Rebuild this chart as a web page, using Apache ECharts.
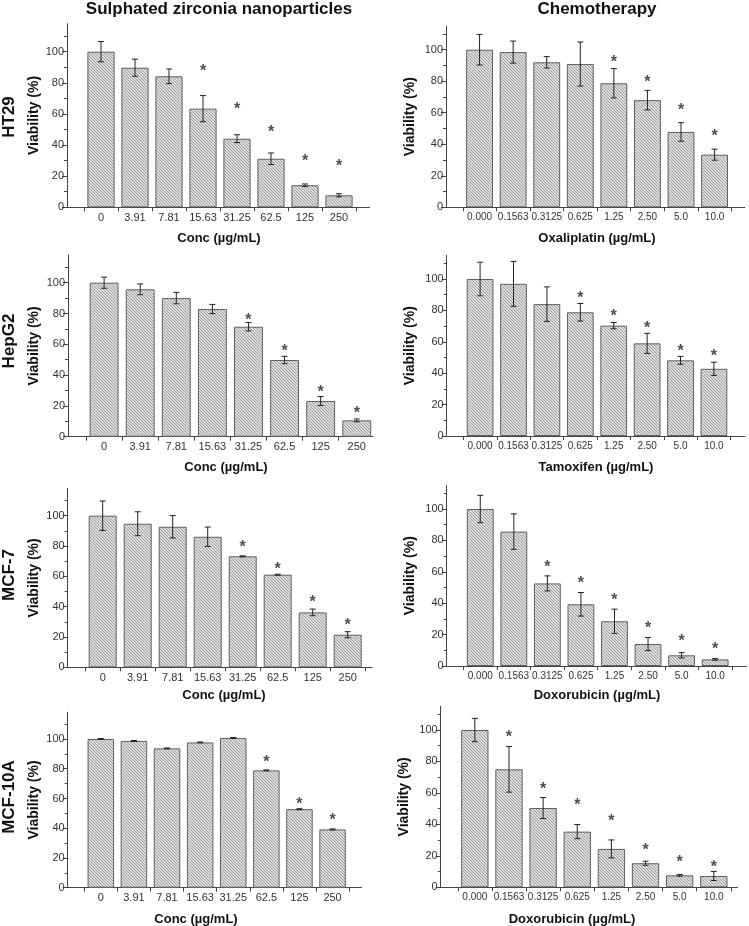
<!DOCTYPE html>
<html>
<head>
<meta charset="utf-8">
<script src="https://cdn.jsdelivr.net/npm/echarts@6/dist/echarts.min.js"></script>
<style>
  html, body { margin: 0; padding: 0; background: #fff; }
  #chart { width: 749px; height: 926px; }
</style>
</head>
<body>
<div id="chart"></div>
<script>
// x categories
var nanoConc = ["0", "3.91", "7.81", "15.63", "31.25", "62.5", "125", "250"];
var chemoConc = ["0.000", "0.1563", "0.3125", "0.625", "1.25", "2.50", "5.0", "10.0"];

// viability (%), error (+/-) and height of the * marker
var ht29Nano = [100, 89.7, 84.2, 63.4, 44.1, 31.2, 14.2, 7.7];
var ht29NanoErr = [6.5, 5.5, 4.7, 8.4, 2.5, 3.7, 0.8, 1.0];
var ht29NanoStar = [null, null, null, 88.9, 64.7, 49.7, 31.5, 27.8];

var ht29Oxa = [100, 98.5, 92, 90.9, 78.7, 68, 47.8, 33.4];
var ht29OxaErr = [9.7, 7, 3.6, 14, 9.3, 6.2, 5.9, 3.5];
var ht29OxaStar = [null, null, null, null, 93.9, 80.8, 63.2, 46.5];

var hepg2Nano = [100, 95.7, 90, 82.9, 71.4, 49.8, 23.2, 10.6];
var hepg2NanoErr = [3.6, 3.5, 3.7, 3, 2.7, 2.4, 2.9, 0.9];
var hepg2NanoStar = [null, null, null, null, 77.3, 57.1, 30.7, 16.7];

var hepg2Tam = [100, 96.9, 84, 78.8, 70.3, 59, 48.2, 42.8];
var hepg2TamErr = [10.7, 14.3, 11, 5.6, 2, 6.4, 2.5, 4.2];
var hepg2TamStar = [null, null, null, 89.4, 78.1, 70.1, 55.8, 52.2];

var mcf7Nano = [100, 94.7, 92.7, 86.1, 73.2, 61.1, 36.2, 21.5];
var mcf7NanoErr = [9.7, 7.9, 7.4, 6.4, 0.3, 0.3, 2.2, 2];
var mcf7NanoStar = [null, null, null, null, 80.9, 66.4, 44.8, 29.5];

var mcf7Dox = [100, 85.6, 52.6, 39.3, 28.5, 14, 6.8, 4.2];
var mcf7DoxErr = [8.7, 11.3, 4.8, 7.5, 7.7, 4.2, 1.7, 0.5];
var mcf7DoxStar = [null, null, 64.5, 54.4, 43.7, 25.5, 17.6, 12.3];

var mcf10aNano = [100, 98.7, 93.7, 97.7, 100.7, 78.9, 52.8, 39.2];
var mcf10aNanoErr = [0.3, 0.3, 0.3, 0.3, 0.3, 0.3, 0.3, 0.3];
var mcf10aNanoStar = [null, null, null, null, null, 85.9, 57.8, 47.1];

var mcf10aDox = [100, 75, 50.4, 35.4, 24.4, 15.3, 7.6, 7.2];
var mcf10aDoxErr = [7.4, 14.5, 6.7, 4.5, 5.7, 1.3, 0.5, 2.9];
var mcf10aDoxStar = [null, 96.8, 64, 53.8, 43.6, 25.4, 17.4, 14.2];

var majorTicks = [0, 20, 40, 60, 80, 100];

var FONT = "'Liberation Sans', Arial, sans-serif";

// grid placement for each panel (pixels), x range and y range
var panels = [
  { cats: nanoConc, vals: ht29Nano, errs: ht29NanoErr, stars: ht29NanoStar, left: 67, width: 302.6, y0: 207.3, y100: 51.7, xMax: 8.9, yMax: 118, yName: 34, xName: "Conc (\u00b5g/mL)", xNameX: 219, xNameY: 238, fs: 11 },
  { cats: chemoConc, vals: ht29Oxa, errs: ht29OxaErr, stars: ht29OxaStar, left: 446, width: 298.8, y0: 207.3, y100: 49.7, xMax: 8.9, yMax: 115, yName: 410, xName: "Oxaliplatin (\u00b5g/mL)", xNameX: 597, xNameY: 238, fs: 10 },
  { cats: nanoConc, vals: hepg2Nano, errs: hepg2NanoErr, stars: hepg2NanoStar, left: 68, width: 305, y0: 436.7, y100: 282.7, xMax: 8.45, yMax: 118, yName: 34, xName: "Conc (\u00b5g/mL)", xNameX: 226, xNameY: 467.5, fs: 11 },
  { cats: chemoConc, vals: hepg2Tam, errs: hepg2TamErr, stars: hepg2TamStar, left: 446.7, width: 298.3, y0: 436, y100: 279, xMax: 8.93, yMax: 115, yName: 410, xName: "Tamoxifen (\u00b5g/mL)", xNameX: 596, xNameY: 467.5, fs: 10 },
  { cats: nanoConc, vals: mcf7Nano, errs: mcf7NanoErr, stars: mcf7NanoStar, left: 67.7, width: 304.5, y0: 667.3, y100: 515.7, xMax: 8.7, yMax: 118, yName: 34, xName: "Conc (\u00b5g/mL)", xNameX: 224, xNameY: 695, fs: 11 },
  { cats: chemoConc, vals: mcf7Dox, errs: mcf7DoxErr, stars: mcf7DoxStar, left: 446.7, width: 300, y0: 666, y100: 509, xMax: 8.94, yMax: 115, yName: 410, xName: "Doxorubicin (\u00b5g/mL)", xNameX: 597, xNameY: 695, fs: 10 },
  { cats: nanoConc, vals: mcf10aNano, errs: mcf10aNanoErr, stars: mcf10aNanoStar, left: 67.7, width: 294, y0: 887.7, y100: 739, xMax: 8.88, yMax: 118, yName: 34, xName: "Conc (\u00b5g/mL)", xNameX: 196, xNameY: 919, fs: 11 },
  { cats: chemoConc, vals: mcf10aDox, errs: mcf10aDoxErr, stars: mcf10aDoxStar, left: 440.7, width: 297, y0: 887.3, y100: 730, xMax: 8.7, yMax: 115, yName: 404, xName: "Doxorubicin (\u00b5g/mL)", xNameX: 572, xNameY: 919, fs: 10 }
];

var rowLabels = [
  { text: "HT29", y: 117 },
  { text: "HepG2", y: 341 },
  { text: "MCF-7", y: 575 },
  { text: "MCF-10A", y: 797 }
];

// fine diagonal hatch used as bar fill
function makeHatch() {
  var c = document.createElement("canvas");
  c.width = 3;
  c.height = 3;
  var g = c.getContext("2d");
  g.fillStyle = "#dedede";
  g.fillRect(0, 0, 3, 3);
  g.fillStyle = "#9c9c9c";
  for (var i = 0; i < 3; i++) g.fillRect(i, i, 1, 1);
  return c;
}
var hatch = { image: makeHatch(), repeat: "repeat" };

function renderErr(params, api) {
  var x = api.value(0);
  var v = api.value(1);
  var e = api.value(2);
  var hi = api.coord([x, v + e]);
  var lo = api.coord([x, v - e]);
  var cap = 3;
  var st = { stroke: "#222", lineWidth: 1 };
  return {
    type: "group",
    children: [
      { type: "line", shape: { x1: hi[0], y1: hi[1], x2: lo[0], y2: lo[1] }, style: st },
      { type: "line", shape: { x1: hi[0] - cap, y1: hi[1], x2: hi[0] + cap, y2: hi[1] }, style: st },
      { type: "line", shape: { x1: lo[0] - cap, y1: lo[1], x2: lo[0] + cap, y2: lo[1] }, style: st }
    ]
  };
}

var grid = [], xAxis = [], yAxis = [], series = [], graphic = [];

panels.forEach(function (p, i) {
  var h = (p.y0 - p.y100) * p.yMax / 100;
  grid.push({ left: p.left, top: p.y0 - h, width: p.width, height: h, outerBoundsMode: "none" });

  var tickPos = [];
  for (var t = 0.5; t <= p.xMax; t += 1) tickPos.push(t);
  var labelPos = p.cats.map(function (c, k) { return k + 1; });

  xAxis.push({
    type: "value",
    gridIndex: i,
    min: 0,
    max: p.xMax,
    axisLine: { show: true, onZero: false, lineStyle: { color: "#444", width: 1 } },
    axisTick: { show: true, customValues: tickPos, length: 4, lineStyle: { color: "#444" } },
    axisLabel: {
      customValues: labelPos,
      formatter: function (v) { return p.cats[Math.round(v) - 1]; },
      fontFamily: FONT,
      fontSize: p.fs,
      color: "#333",
      margin: 5
    },
    splitLine: { show: false }
  });

  yAxis.push({
    type: "value",
    gridIndex: i,
    min: 0,
    max: p.yMax,
    interval: 20,
    axisLine: { show: true, lineStyle: { color: "#444", width: 1 } },
    axisTick: { show: true, customValues: majorTicks, length: 5, lineStyle: { color: "#444" } },
    minorTick: { show: true, splitNumber: 2, length: 3, lineStyle: { color: "#444" } },
    axisLabel: { customValues: majorTicks, fontFamily: FONT, fontSize: 11, color: "#333", margin: 3 },
    splitLine: { show: false },
    minorSplitLine: { show: false }
  });

  series.push({
    type: "bar",
    xAxisIndex: i,
    yAxisIndex: i,
    barWidth: "80%",
    data: p.vals.map(function (v, k) { return [k + 1, v]; }),
    itemStyle: { color: hatch, borderColor: "#606060", borderWidth: 1 },
    silent: true
  });

  series.push({
    type: "custom",
    xAxisIndex: i,
    yAxisIndex: i,
    renderItem: renderErr,
    encode: { x: 0, y: 1 },
    data: p.vals.map(function (v, k) { return [k + 1, v, p.errs[k]]; }),
    z: 3,
    silent: true
  });

  var starData = [];
  p.stars.forEach(function (s, k) { if (s != null) starData.push([k + 1, s]); });
  series.push({
    type: "scatter",
    xAxisIndex: i,
    yAxisIndex: i,
    symbolSize: 0,
    data: starData,
    label: {
      show: true,
      position: "inside",
      formatter: "*",
      fontFamily: FONT,
      fontSize: 16,
      fontWeight: "bold",
      color: "#222",
      offset: [0, 3]
    },
    z: 4,
    silent: true
  });

  graphic.push({
    type: "text",
    x: p.yName,
    y: p.y0 - h / 2,
    rotation: Math.PI / 2,
    style: { text: "Viability (%)", font: "bold 14px " + FONT, fill: "#111", align: "center", verticalAlign: "middle" }
  });
  graphic.push({
    type: "text",
    x: p.xNameX,
    y: p.xNameY,
    style: { text: p.xName, font: "bold 13px " + FONT, fill: "#111", align: "center", verticalAlign: "middle" }
  });
});

rowLabels.forEach(function (r) {
  graphic.push({
    type: "text",
    x: 9,
    y: r.y,
    rotation: Math.PI / 2,
    style: { text: r.text, font: "bold 17px " + FONT, fill: "#111", align: "center", verticalAlign: "middle" }
  });
});

graphic.push({
  type: "text", x: 219, y: 9,
  style: { text: "Sulphated zirconia nanoparticles", font: "bold 17px " + FONT, fill: "#111", align: "center", verticalAlign: "middle" }
});
graphic.push({
  type: "text", x: 597, y: 9,
  style: { text: "Chemotherapy", font: "bold 17px " + FONT, fill: "#111", align: "center", verticalAlign: "middle" }
});

var chart = echarts.init(document.getElementById("chart"));
var option = {
  animation: false,
  backgroundColor: "#fff",
  grid: grid,
  xAxis: xAxis,
  yAxis: yAxis,
  series: series,
  graphic: graphic
};
option && chart.setOption(option);
</script>
</body>
</html>
